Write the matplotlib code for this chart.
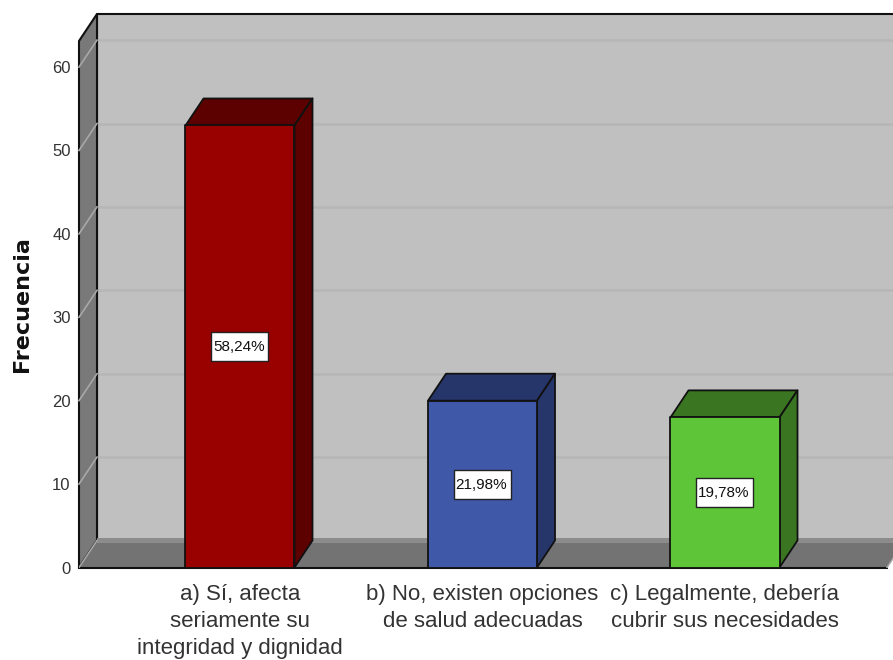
import matplotlib
matplotlib.use('Agg')
import matplotlib.pyplot as plt
from matplotlib.patches import Polygon, Rectangle

# values
categories = ['a) Sí, afecta\nseriamente su\nintegridad y dignidad',
              'b) No, existen opciones\nde salud adecuadas',
              'c) Legalmente, debería\ncubrir sus necesidades']
frequencies = [53, 20, 18]
percent_labels = ['58,24%', '21,98%', '19,78%']
y_ticks = [0, 10, 20, 30, 40, 50, 60]

front_colors = ['#990000', '#3f58a8', '#5ec438']
dark_colors = ['#5c0000', '#26356a', '#3a7622']

plt.rcParams['font.family'] = ['Liberation Sans', 'DejaVu Sans']

W, H = 893, 660
fig = plt.figure(figsize=(W / 100, H / 100), dpi=100)
left, right, top, bottom = 79, 893, 41, 567.5
ax = fig.add_axes([left / W, 1 - bottom / H, (right - left) / W, (bottom - top) / H])

px_x = 242.5  # pixels per category
px_y = 8.34   # pixels per frequency unit
ax.set_xlim(-(240 - left) / px_x, (right - 240) / px_x)
ax.set_ylim(0, (bottom - top) / px_y)
x0, x1 = ax.get_xlim()
y1 = ax.get_ylim()[1]

# 3d depth, in data units
dx = 18 / px_x
dy = 27 / px_y
bar_w = 109 / px_x
floor_end = x1 - 6 / px_x


def poly(points, color, lw=1.3, z=2, edge='#111111'):
    ax.add_patch(Polygon(points, closed=True, facecolor=color, edgecolor=edge,
                         linewidth=lw, zorder=z, clip_on=False, joinstyle='round'))


# back wall, side wall and floor
poly([(x0 + dx, dy), (x1 + dx, dy), (x1 + dx, y1 + dy), (x0 + dx, y1 + dy)], '#c0c0c0', lw=1.5)
poly([(x0, 0), (x0 + dx, dy), (x0 + dx, y1 + dy), (x0, y1)], '#797979', lw=1.5, z=3)
poly([(x0, 0), (floor_end, 0), (floor_end + dx, dy), (x0 + dx, dy)], '#737373', lw=0, z=3.05, edge='none')
ax.add_patch(Rectangle((x0 + dx, dy - 2 / px_y), x1 - x0, 5 / px_y, facecolor='#8c8c8c',
                       edgecolor='none', zorder=3.1))
ax.plot([x0, floor_end], [0, 0], color='#111111', lw=1.5, zorder=3.3, clip_on=False)
ax.plot([x0, x0 + dx], [0, dy], color='#a8a8a8', lw=1.1, zorder=3.3)
ax.plot([floor_end, floor_end + dx], [0, dy], color='#a8a8a8', lw=1.1, zorder=3.3, clip_on=True)

# gridlines on the wall
for t in y_ticks[1:]:
    ax.plot([x0 + dx, x1], [t + dy, t + dy], color='#b6b6b6', lw=1.8, zorder=2.5, clip_on=False)
    ax.plot([x0, x0 + dx], [t, t + dy], color='#a8a8a8', lw=1.2, zorder=3.2, clip_on=False)

# bars
box_w = 57 / px_x
box_h = 29 / px_y
for i, value in enumerate(frequencies):
    l = i - bar_w / 2
    r = i + bar_w / 2
    poly([(l, value), (r, value), (r + dx, value + dy), (l + dx, value + dy)], dark_colors[i], z=4)
    poly([(r, 0), (r + dx, dy), (r + dx, value + dy), (r, value)], dark_colors[i], z=4)
    poly([(l, 0), (r, 0), (r, value), (l, value)], front_colors[i], z=5)
    ax.add_patch(Rectangle((i - box_w / 2, value / 2 - box_h / 2), box_w, box_h, facecolor='white',
                           edgecolor='#222222', linewidth=1, zorder=6))
    ax.text(i - 1 / px_x, value / 2 - 1 / px_y, percent_labels[i], ha='center', va='center', fontsize=11,
            color='#111111', zorder=7)

ax.set_xticks(range(len(categories)))
ax.set_xticklabels(categories, fontsize=16, color='#333333', linespacing=1.36)
ax.set_yticks(y_ticks)
ax.set_yticklabels([str(t) for t in y_ticks], fontsize=12, color='#333333')
ax.tick_params(axis='both', length=0)
ax.tick_params(axis='x', pad=12)
ax.tick_params(axis='y', pad=6)
for s in ax.spines.values():
    s.set_visible(False)

fig.text(22 / W, 1 - 304 / H, 'Frecuencia', rotation=90, ha='center', va='center',
         fontsize=16, fontweight='bold', color='#111111', family=['DejaVu Sans'])

fig.savefig('out.png', dpi=100)
